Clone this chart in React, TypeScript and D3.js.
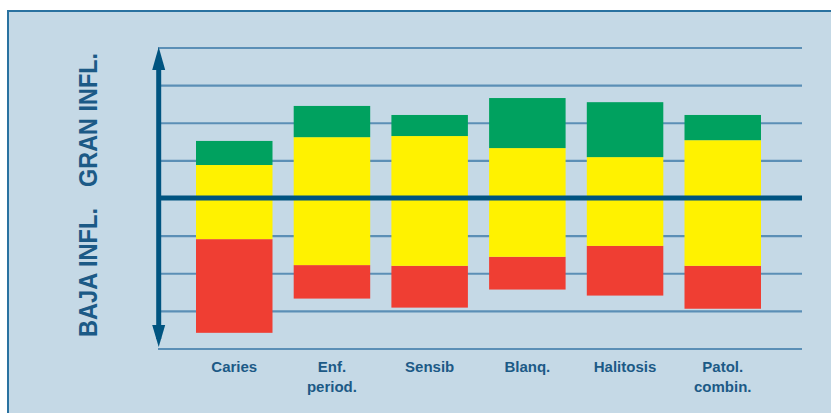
import React from "react";
import * as d3 from "d3";

const categories: string[][] = [
  ["Caries"],
  ["Enf.", "period."],
  ["Sensib"],
  ["Blanq."],
  ["Halitosis"],
  ["Patol.", "combin."],
];
// boundaries of each stacked bar (in grid units, 0 = central line)
const redBottom = [-3.57, -2.66, -2.9, -2.42, -2.58, -2.93];
const yellowBottom = [-1.08, -1.77, -1.79, -1.55, -1.26, -1.79];
const greenBottom = [0.89, 1.63, 1.66, 1.34, 1.1, 1.55];
const greenTop = [1.53, 2.46, 2.22, 2.67, 2.56, 2.22];
const gridTicks = [-4, -3, -2, -1, 0, 1, 2, 3, 4];

const W = 831;
const H = 413;
const BG = "#c5d9e6";
const AXIS = "#005480";
const GRID = "#5b8fb6";
const TEXT = "#1c5a86";

export default function App() {
  const x = d3
    .scaleBand<number>()
    .domain(d3.range(categories.length))
    .range([185.4, 771.6])
    .paddingInner(0.217)
    .paddingOuter(0.1085);
  const y = d3.scaleLinear().domain([-4, 4]).range([349, 48]);
  const gx0 = 158;
  const gx1 = 802;
  const ax = 158.7;
  const segs = [
    { lo: redBottom, hi: yellowBottom, color: "#ef3e33" },
    { lo: yellowBottom, hi: greenBottom, color: "#fff200" },
    { lo: greenBottom, hi: greenTop, color: "#00a15f" },
  ];
  const font = "'Liberation Sans', Arial, Helvetica, sans-serif";
  return (
    <svg
      width={W}
      height={H}
      style={{ position: "absolute", left: 0, top: 0 }}
      fontFamily={font}
    >
      <rect x={0} y={0} width={W} height={H} fill="#ffffff" />
      <rect x={8} y={11} width={W} height={H} fill={BG} stroke="#2a72a0" strokeWidth={2} />
      {gridTicks
        .filter((t) => t !== 0)
        .map((t) => (
          <line key={t} x1={gx0} x2={gx1} y1={y(t)} y2={y(t)} stroke={GRID} strokeWidth={2.2} />
        ))}
      {segs.map((s, si) =>
        categories.map((_, i) => (
          <rect
            key={si + "-" + i}
            x={x(i)}
            width={x.bandwidth()}
            y={y(s.hi[i])}
            height={y(s.lo[i]) - y(s.hi[i])}
            fill={s.color}
          />
        ))
      )}
      <line x1={gx0} x2={gx1} y1={y(0) - 0.5} y2={y(0) - 0.5} stroke={AXIS} strokeWidth={5} />
      <line x1={ax} x2={ax} y1={y(4) + 10} y2={y(-4) - 10} stroke={AXIS} strokeWidth={5} />
      <polygon points={`${ax},${y(4) - 1} ${ax - 6.5},${y(4) + 22} ${ax + 6.5},${y(4) + 22}`} fill={AXIS} />
      <polygon points={`${ax},${y(-4) - 2} ${ax - 6.5},${y(-4) - 24} ${ax + 6.5},${y(-4) - 24}`} fill={AXIS} />
      {categories.map((lines, i) => (
        <text
          key={i}
          x={(x(i) as number) + x.bandwidth() / 2}
          y={372.3}
          textAnchor="middle"
          fontSize={15}
          fontWeight="bold"
          fill={TEXT}
        >
          {lines.map((l, j) => (
            <tspan key={j} x={(x(i) as number) + x.bandwidth() / 2} dy={j === 0 ? 0 : 19.3}>
              {l}
            </tspan>
          ))}
        </text>
      ))}
      <text
        transform={`translate(96.7,337) rotate(-90)`}
        fontSize={25.5}
        fontWeight="bold"
        fill={TEXT}
        textLength={129}
        lengthAdjust="spacingAndGlyphs"
      >
        BAJA INFL.
      </text>
      <text
        transform={`translate(96.7,53) rotate(-90)`}
        fontSize={25.5}
        fontWeight="bold"
        fill={TEXT}
        textAnchor="end"
        textLength={134}
        lengthAdjust="spacingAndGlyphs"
      >
        GRAN INFL.
      </text>
    </svg>
  );
}
